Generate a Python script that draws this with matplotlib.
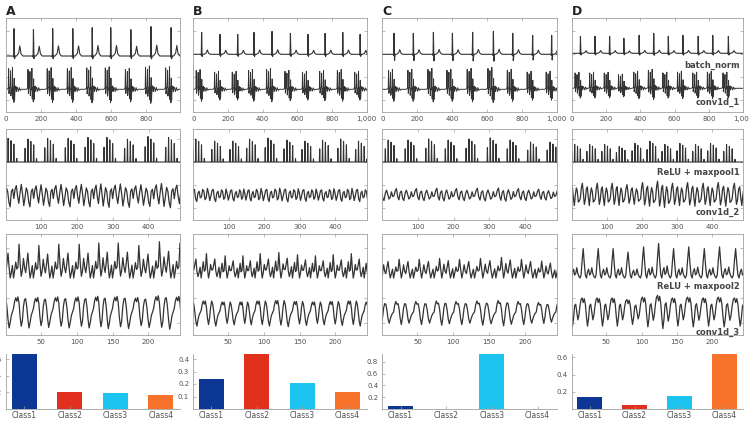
import numpy as np
import matplotlib.pyplot as plt

# ---------------------------------------------------------------------------
# data
# ---------------------------------------------------------------------------
# R-peak positions (samples) of the batch_norm traces, one list per column
beats_a = [46, 157, 267, 382, 493, 599, 714, 829, 944]
beats_b = [48, 154, 256, 350, 454, 560, 661, 760, 862, 962]
beats_c = [67, 178, 293, 402, 518, 637, 748, 862, 971]
beats_d = [51, 136, 221, 304, 393, 478, 563, 648, 737, 822, 913]

# R-peak heights (px above baseline), used as per-beat scale
rpk_a = [27, 26, 27, 27, 28, 28, 26, 29, 28]
rpk_b = [22, 20, 20, 22, 23, 21, 20, 21, 22, 20]
rpk_c = [21, 21, 22, 21, 22, 23, 21, 19, 19]
rpk_d = [17, 17, 17, 15, 18, 20, 17, 18, 17, 18, 17]

# ECG beat shape (offset in samples, value relative to R height)
ecg_off = [-14, -5, -2, 0, 3, 7, 14, 26, 33, 40, 50]
ecg_a = [0, 0, -0.04, 1.0, -0.1, 0, 0, 0.1, 0.37, 0.08, 0]
ecg_b = [0, 0, -0.04, 1.0, -0.1, 0, 0, 0.06, 0.2, 0.05, 0]
ecg_c = [0, 0, -0.05, 1.0, -0.3, 0, 0, 0.07, 0.22, 0.06, 0]
ecg_d = [0, 0, -0.04, 1.0, -0.1, 0, 0, 0.05, 0.16, 0.04, 0]

# conv1d_1 response around each beat
c1_off = [-40, -33, -31, -29, -26, -22, -20, -18, -14, -11, -9, -7, -4, -1,
          1, 3, 6, 10, 13, 16, 20, 25, 30, 36, 42]
c1_val = [0, 0.05, 0.95, -0.2, 0.05, 0.1, 0.85, -0.3, 0.05, 0.0, 1.0, -0.45,
          0.1, -0.6, 0.5, -0.5, 0.1, 0.15, -0.1, 0.1, 0.05, -0.1, 0.08,
          -0.05, 0]

# ReLU + maxpool1 spikes around each beat (offset in pooled samples)
r1_off = [-24, -16, -8, 0, 8]
r1_h = [0.6, 1.0, 0.9, 0.75, 0.15]

# conv1d_2, one beat period
c2_a = [-0.3, 0.5, 0.8, -0.1, -0.7, 0.2, 0.9, 0.1, -0.9, -0.2, 0.6, 0.3, -0.6, -1.0, 0.3, 0.5]
c2_b = [-0.2, 0.6, 0.4, -0.5, -0.3, 0.7, 0.2, -0.6, -0.1, 0.5, 0.6, -0.4, -0.7, 0.2, 0.4, -0.3]
c2_c = [-0.1, 0.5, 0.8, -0.2, -0.6, 0.3, 0.5, -0.4, -0.7, 0.2, 0.6, 0.1, -0.5, -0.3, 0.4, -0.2]
c2_d = [-0.3, 0.6, 1.0, 0.2, -0.8, -0.4, 0.5, 0.7, -0.2, -0.9, 0.0, 0.6, 0.3, -0.6, -0.5]

# ReLU + maxpool2, one beat period
r2_a = [0.0, 0.2, 0.45, 0.25, 0.3, 0.95, 0.4, 0.05, 0.2, 0.55, 0.3, 0.15, 0.4, 0.7, 0.3, 0.0, 0.15, 0.35]
r2_b = [0.0, 0.3, 0.6, 0.25, 0.3, 0.9, 0.35, 0.0, 0.2, 0.5, 0.3, 0.3, 0.5, 0.7, 0.25, 0.05, 0.2, 0.4]
r2_c = [0.0, 0.25, 0.5, 0.3, 0.35, 0.85, 0.4, 0.0, 0.25, 0.6, 0.3, 0.2, 0.5, 0.75, 0.3, 0.0, 0.2, 0.4]
r2_d = [0.0, 0.1, 0.6, 1.0, 0.5, 0.1, 0.0, 0.2, 0.3, 0.1, 0.15, 0.35, 0.15, 0.05]

# conv1d_3, one beat period
c3_a = [0.2, 0.6, 0.8, 0.6, 0.85, 0.5, -0.3, -0.8, -0.5, 0.3, 0.7, 0.75, 0.3, -0.4, -0.9, -0.6, -0.2, 0.0]
c3_b = [0.1, 0.5, 0.7, 0.5, 0.7, 0.3, -0.4, -0.8, -0.4, 0.3, 0.7, 0.5, 0.0, -0.6, -0.9, -0.5, -0.2, -0.05]
c3_c = [0.0, 0.5, 0.75, 0.55, 0.6, 0.2, -0.5, -0.9, -0.4, 0.3, 0.6, 0.55, 0.1, -0.5, -0.8, -0.5, -0.25, -0.1]
c3_d = [0.4, 0.8, 0.9, 0.6, 0.85, 0.5, -0.3, -0.9, -0.4, 0.4, 0.5, 0.0, -0.5, -0.2]

# class probabilities
classes = ['Class1', 'Class2', 'Class3', 'Class4']
probs_a = [0.66, 0.20, 0.19, 0.17]
probs_b = [0.24, 0.44, 0.205, 0.14]
probs_c = [0.05, 0.003, 0.93, 0.004]
probs_d = [0.14, 0.045, 0.152, 0.64]

yticks_bar = [[0.2, 0.4, 0.6], [0.1, 0.2, 0.3, 0.4],
              [0.2, 0.4, 0.6, 0.8], [0.2, 0.4, 0.6]]
layer_names = ['batch_norm', 'conv1d_1', 'ReLU + maxpool1', 'conv1d_2',
               'ReLU + maxpool2', 'conv1d_3']
bar_colors = ['#0c3794', '#e2301e', '#1ec4f0', '#f7722a']

# ---------------------------------------------------------------------------
# helpers
# ---------------------------------------------------------------------------
W, H = 749, 421
LINE = '#333333'
GRID = '#a0a0a0'
TXT = '#505050'


def px_axes(fig, x0, y0, x1, y1):
    return fig.add_axes([x0 / W, 1 - y1 / H, (x1 - x0) / W, (y1 - y0) / H])


def beat_trace(beats, scale, offs, vals, base, amp, x0, x1):
    xs, ys = [x0], [base]
    for b, s in zip(beats, scale):
        for o, v in zip(offs, vals):
            xs.append(b + o)
            ys.append(base + amp * s * v)
    xs.append(x1)
    ys.append(base)
    return xs, ys


def spike_trace(beats, scale, offs, hts, base, amp, x0, x1, hw=1.0):
    xs, ys = [x0], [base]
    for b, s in zip(beats, scale):
        for o, h in zip(offs, hts):
            xs += [b + o - hw, b + o, b + o + hw]
            ys += [base, base + amp * s * h, base]
    xs.append(x1)
    ys.append(base)
    return xs, ys


def wave_trace(beats, scale, tmpl, base, amp):
    b = list(beats)
    ext = [b[0] - (b[1] - b[0])] + b + [b[-1] + (b[-1] - b[-2])]
    sc = [scale[0]] + list(scale) + [scale[-1]]
    n = len(tmpl)
    xs, ys = [], []
    for i in range(len(ext) - 1):
        for k, v in enumerate(tmpl):
            xs.append(ext[i] + (ext[i + 1] - ext[i]) * k / n)
            ys.append(base + amp * sc[i] * v)
    return xs, ys


def style_signal(ax, xlim, ylim, xticks, yticks):
    ax.set_xlim(*xlim)
    ax.set_ylim(*ylim)
    ax.set_xticks(xticks)
    ax.set_xticklabels([f'{t:,}' for t in xticks])
    ax.set_yticks(yticks)
    ax.set_yticklabels([])
    ax.tick_params(direction='in', length=2, width=0.5, color=GRID,
                   labelcolor=TXT, labelsize=5, top=True, right=True, pad=3)
    for s in ax.spines.values():
        s.set_color(GRID)
        s.set_linewidth(0.6)


# ---------------------------------------------------------------------------
# figure
# ---------------------------------------------------------------------------
fig = plt.figure(figsize=(W / 100, H / 100), dpi=100)

cols = [(6, 180), (193.3, 366.7), (382.3, 556.7), (571.7, 743.3)]
letters = ['A', 'B', 'C', 'D']
beats_all = [beats_a, beats_b, beats_c, beats_d]
rpk_all = [rpk_a, rpk_b, rpk_c, rpk_d]
ecg_all = [ecg_a, ecg_b, ecg_c, ecg_d]
c2_all = [c2_a, c2_b, c2_c, c2_d]
r2_all = [r2_a, r2_b, r2_c, r2_d]
c3_all = [c3_a, c3_b, c3_c, c3_d]
probs_all = [probs_a, probs_b, probs_c, probs_d]

# per column amplitudes in px: ecg base/amp, c1 base/amp, r1 amp, c2 amp, r2 amp, c3 amp
amps = [
    (55.7, 27.7, 22.4, 22, 24, 12, 36, 18),
    (57.4, 21.0, 22.4, 19, 22, 9, 26, 15),
    (57.4, 21.0, 22.4, 20, 22, 8, 22, 14),
    (58.4, 17.3, 23.4, 16.5, 18, 12, 30, 16),
]

for j in range(4):
    x0, x1 = cols[j]
    beats = np.array(beats_all[j], dtype=float)
    sc = np.array(rpk_all[j]) / np.mean(rpk_all[j])
    eb, ea, cb, ca, r1a, c2a, r2a, c3a = amps[j]

    fig.text(x0 / W, 1 - 15 / H, letters[j], fontsize=9, fontweight='bold',
             color='#222222', ha='left', va='baseline')

    # panel 1: batch_norm + conv1d_1
    ax1 = px_axes(fig, x0, 18.3, x1, 111.7)
    xs, ys = beat_trace(beats, sc, ecg_off, ecg_all[j], eb, ea, 0, 1000)
    ax1.plot(xs, ys, color=LINE, lw=0.8)
    xs, ys = beat_trace(beats, sc, c1_off, c1_val, cb, ca, 0, 1000)
    ax1.plot(xs, ys, color=LINE, lw=0.7)
    xt = [0, 200, 400, 600, 800] if j == 0 else [0, 200, 400, 600, 800, 1000]
    style_signal(ax1, (0, 995 if j == 0 else 1000), (0, 93.4), xt,
                 [11.5, 34.5, 57.5, 80.5])

    # panel 2: ReLU + maxpool1 + conv1d_2
    ax2 = px_axes(fig, x0, 129, x1, 220)
    xs, ys = spike_trace(beats / 2, sc, r1_off, r1_h, 58, r1a, 0, 500)
    ax2.plot(xs, ys, color=LINE, lw=0.8)
    xs, ys = wave_trace(beats / 2, sc, c2_all[j], 25, c2a)
    ax2.plot(xs, ys, color=LINE, lw=0.9)
    style_signal(ax2, (1, 488), (0, 91), [100, 200, 300, 400],
                 [12, 35, 58, 81])

    # panel 3: ReLU + maxpool2 + conv1d_3
    ax3 = px_axes(fig, x0, 234, x1, 335)
    xs, ys = wave_trace(beats / 4, sc, r2_all[j], 57, r2a)
    ax3.plot(xs, ys, color=LINE, lw=0.9)
    xs, ys = wave_trace(beats / 4, sc, c3_all[j], 23, c3a)
    ax3.plot(xs, ys, color=LINE, lw=0.9)
    style_signal(ax3, (1, 244), (0, 101), [50, 100, 150, 200],
                 [12, 37, 62, 87])

    # bars: class probabilities
    ax4 = px_axes(fig, x0, 354, x1, 409)
    pr = probs_all[j]
    ax4.bar(np.arange(1, 5), pr, width=0.55, color=bar_colors)
    ax4.set_xlim(0.6, 4.42)
    ax4.set_ylim(0, max(pr))
    ax4.set_xticks(np.arange(1, 5))
    ax4.set_xticklabels(classes)
    ax4.set_yticks(yticks_bar[j])
    ax4.set_yticklabels([f'{t:.1f}' for t in yticks_bar[j]])
    ax4.tick_params(direction='in', length=2, width=0.5, color=GRID,
                    labelcolor=TXT, labelsize=5, pad=3)
    ax4.tick_params(axis='x', labelsize=5.5, pad=1.5)
    for s in ['top', 'right']:
        ax4.spines[s].set_visible(False)
    for s in ['left', 'bottom']:
        ax4.spines[s].set_color(GRID)
        ax4.spines[s].set_linewidth(0.6)

# layer names on the right column
name_y = [65, 102.7, 172.7, 212.3, 286.7, 332.3]
for name, yy in zip(layer_names, name_y):
    fig.text(740 / W, 1 - yy / H, name, fontsize=6, fontweight='bold',
             color='#454545', ha='right', va='center')

fig.savefig('out.png', dpi=100)
